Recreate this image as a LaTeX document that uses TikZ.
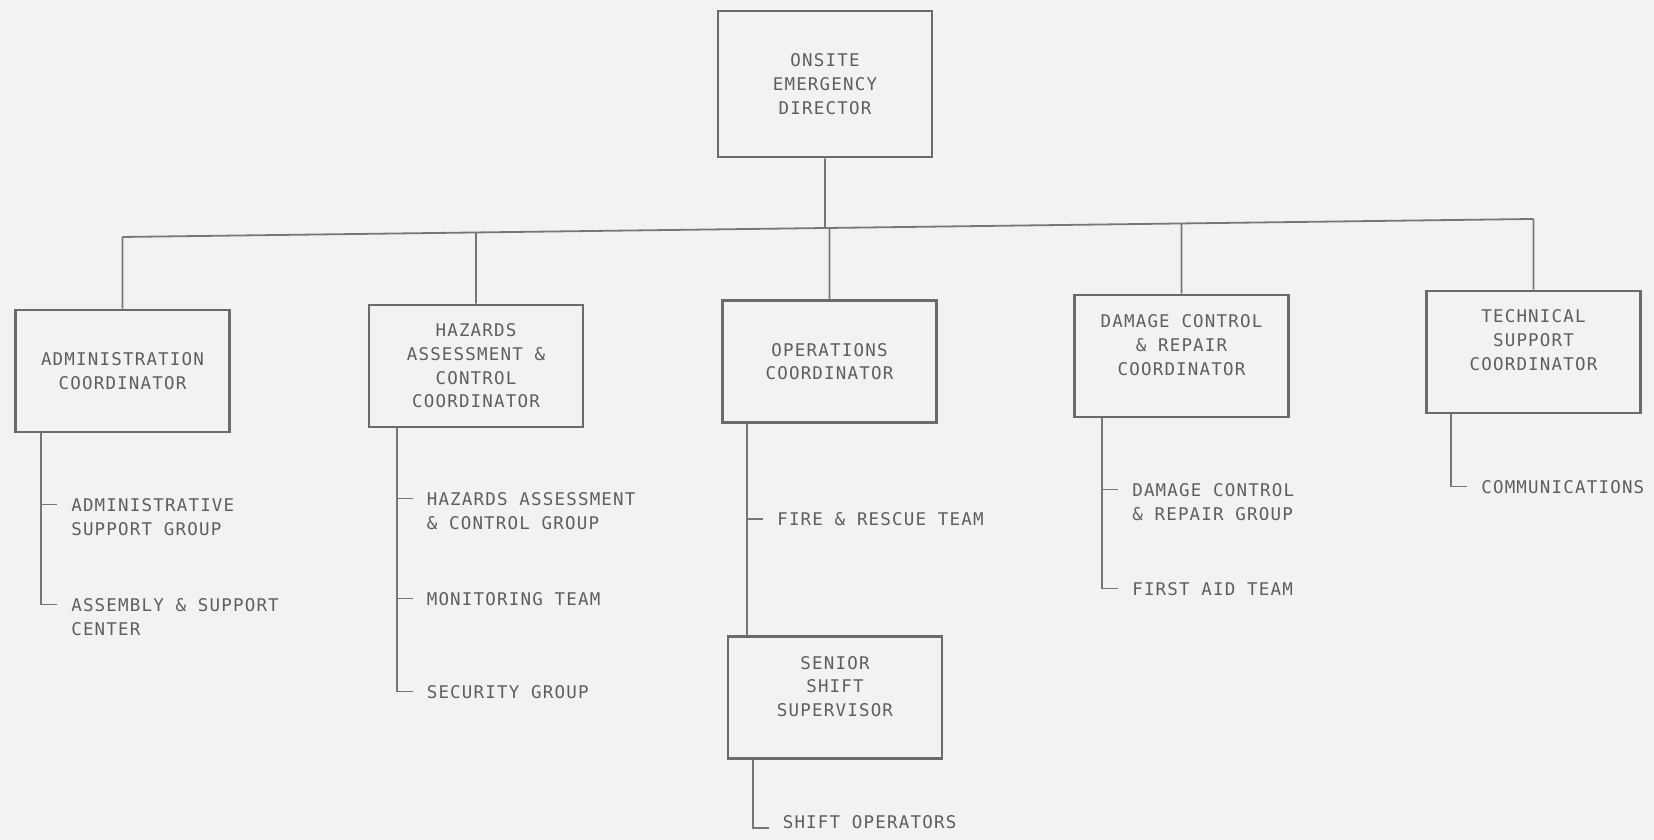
\documentclass[tikz,border=0pt]{standalone}
\usepackage{fontspec}
\newfontfamily\chartfont{DejaVu Sans Mono}[LetterSpace=6.8]
\usetikzlibrary{calc}
\definecolor{paper}{HTML}{F2F2F2}
\definecolor{ink}{HTML}{6A6A6A}
\definecolor{wire}{HTML}{767676}
\definecolor{type}{HTML}{5E5E5E}

\begin{document}
\begin{tikzpicture}[x=1pt,y=-1pt,
  caption/.style={font={\chartfont\fontsize{17.5pt}{23.7pt}\selectfont},
    text=type, align=center, inner sep=0pt},
  box/.style={caption, draw=ink, line width=2.8pt,
    minimum width=214pt, minimum height=122pt},
  lab/.style={font={\chartfont\fontsize{17.5pt}{24.5pt}\selectfont},
    text=type, align=left, inner sep=0pt, anchor=north west},
  conn/.style={draw=wire, line width=1.8pt},
]
% sheet
\fill[paper] (0,0) rectangle (1654,840);
\useasboundingbox (0,0) rectangle (1654,840);

% director
\node[box, minimum height=146pt] (dir) at (825,84) {ONSITE\\EMERGENCY\\DIRECTOR};

% coordinators
\node[box] (adm) at (122.5,371) {ADMINISTRATION\\COORDINATOR};
\node[box] (haz) at (476,366) {HAZARDS\\ASSESSMENT \&\\CONTROL\\COORDINATOR};
\node[box] (ops) at (829.5,361.5) {OPERATIONS\\COORDINATOR};
\node[box] (dmg) at (1181.5,356) {};
\node[caption] (dmg-t) at ([yshift=11pt]dmg.center) {DAMAGE CONTROL\\\& REPAIR\\COORDINATOR};
\node[box] (tec) at (1533.5,352) {};
\node[caption] (tec-t) at ([yshift=12pt]tec.center) {TECHNICAL\\SUPPORT\\COORDINATOR};
\node[box] (sss) at (835,697.5) {};
\node[caption] (sss-t) at ([yshift=11pt]sss.center) {SENIOR\\SHIFT\\SUPERVISOR};

% bus from the director to the coordinators (vertical drops)
\coordinate (busL) at (121,237);
\coordinate (busR) at (1531,219);
\draw[conn] (intersection of busL--busR and adm.north--adm.south)
  -- (intersection of busL--busR and tec.north--tec.south);
\draw[conn] (dir.south) -- (intersection of busL--busR and dir.north--dir.south);
\foreach \n in {adm,haz,ops,dmg,tec}
  \draw[conn] (\n.north) -- (intersection of busL--busR and \n.north--\n.south);

% branch points under each coordinator
\coordinate (adm-v) at ($(adm.south west)+(27,0)$);
\coordinate (adm-1) at ($(adm.south west)+(27,71)$);
\coordinate (adm-2) at ($(adm.south west)+(27,171)$);
\coordinate (haz-v) at ($(haz.south west)+(29,0)$);
\coordinate (haz-1) at ($(haz.south west)+(29,70)$);
\coordinate (haz-2) at ($(haz.south west)+(29,170)$);
\coordinate (haz-3) at ($(haz.south west)+(29,263)$);
\coordinate (ops-v) at ($(ops.south west)+(26,0)$);
\coordinate (ops-1) at ($(ops.south west)+(26,95)$);
\coordinate (sss-v) at ($(sss.south west)+(26,0)$);
\coordinate (sss-1) at ($(sss.south west)+(26,68)$);
\coordinate (dmg-v) at ($(dmg.south west)+(29,0)$);
\coordinate (dmg-1) at ($(dmg.south west)+(29,71)$);
\coordinate (dmg-2) at ($(dmg.south west)+(29,170)$);
\coordinate (tec-v) at ($(tec.south west)+(26,0)$);
\coordinate (tec-1) at ($(tec.south west)+(26,72)$);

% group and team labels
\node[lab] (l-adm-1) at ($(adm-1)+(30,-6.5)$) {ADMINISTRATIVE\\SUPPORT GROUP};
\node[lab] (l-adm-2) at ($(adm-2)+(30,-6.5)$) {ASSEMBLY \& SUPPORT\\CENTER};
\node[lab] (l-haz-1) at ($(haz-1)+(30,-6.5)$) {HAZARDS ASSESSMENT\\\& CONTROL GROUP};
\node[lab] (l-haz-2) at ($(haz-2)+(30,-6.5)$) {MONITORING TEAM};
\node[lab] (l-haz-3) at ($(haz-3)+(30,-6.5)$) {SECURITY GROUP};
\node[lab] (l-ops-1) at ($(ops-1)+(30,-6.5)$) {FIRE \& RESCUE TEAM};
\node[lab] (l-sss-1) at ($(sss-1)+(30,-13)$) {SHIFT OPERATORS};
\node[lab] (l-dmg-1) at ($(dmg-1)+(30,-6.5)$) {DAMAGE CONTROL\\\& REPAIR GROUP};
\node[lab] (l-dmg-2) at ($(dmg-2)+(30,-6.5)$) {FIRST AID TEAM};
\node[lab] (l-tec-1) at ($(tec-1)+(30,-6.5)$) {COMMUNICATIONS};

% spines with ticks and end hooks
\draw[conn] (adm-v) -- (adm-2) -- ($(l-adm-2.north west)+(-14,6.5)$);
\draw[conn] (adm-1) -- ($(l-adm-1.north west)+(-14,6.5)$);
\draw[conn] (haz-v) -- (haz-3) -- ($(l-haz-3.north west)+(-14,6.5)$);
\draw[conn] (haz-1) -- ($(l-haz-1.north west)+(-14,6.5)$);
\draw[conn] (haz-2) -- ($(l-haz-2.north west)+(-14,6.5)$);
\draw[conn] (ops-v) -- (ops-v |- sss.north);
\draw[conn] (ops-1) -- ($(l-ops-1.north west)+(-14,6.5)$);
\draw[conn] (sss-v) -- (sss-1) -- ($(l-sss-1.north west)+(-14,13)$);
\draw[conn] (dmg-v) -- (dmg-2) -- ($(l-dmg-2.north west)+(-14,6.5)$);
\draw[conn] (dmg-1) -- ($(l-dmg-1.north west)+(-14,6.5)$);
\draw[conn] (tec-v) -- (tec-1) -- ($(l-tec-1.north west)+(-14,6.5)$);
\end{tikzpicture}
\end{document}
